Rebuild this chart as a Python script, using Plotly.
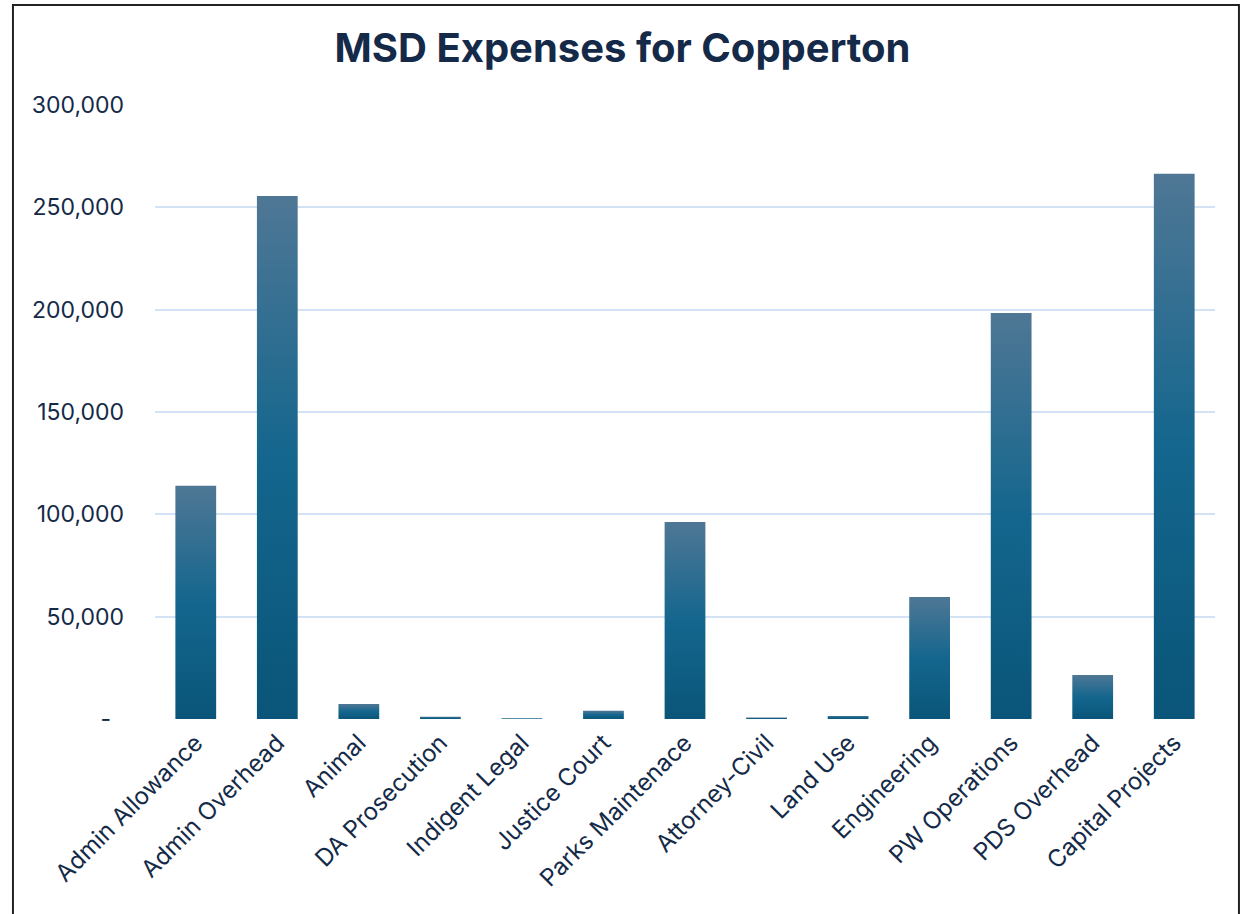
import plotly.graph_objects as go

# Expense categories and amounts (USD)
categories = [
    "Admin Allowance", "Admin Overhead", "Animal", "DA Prosecution",
    "Indigent Legal", "Justice Court", "Parks Maintenace", "Attorney-Civil",
    "Land Use", "Engineering", "PW Operations", "PDS Overhead", "Capital Projects",
]
expenses = [114000, 255500, 7300, 1100, 400, 4000, 96300, 700, 1500, 59600, 198400, 21500, 266400]

y_ticks = [0, 50000, 100000, 150000, 200000, 250000, 300000]
y_tick_text = ["-\u00a0\u00a0", "50,000", "100,000", "150,000", "200,000", "250,000", "300,000"]

BAR_WIDTH = 0.5
TEXT = "#142a48"
GRID = "#d3e2f4"
FONT = "Inter, Open Sans, sans-serif"
# bottom -> top gradient for each bar
bar_gradient = [[0.0, "#0a5579"], [0.5, "#14668e"], [1.0, "#4f7795"]]

fig = go.Figure()

for i, (name, value) in enumerate(zip(categories, expenses)):
    x0, x1 = i - BAR_WIDTH / 2, i + BAR_WIDTH / 2
    fig.add_trace(go.Scatter(
        x=[x0, x1, x1, x0, x0],
        y=[0, 0, value, value, 0],
        mode="lines",
        line=dict(width=0),
        fill="toself",
        fillgradient=dict(type="vertical", colorscale=bar_gradient),
        name=name,
        hoveron="fills",
        hoverinfo="text",
        text=f"{name}: {value:,}",
        showlegend=False,
    ))

fig.update_layout(
    width=1245,
    height=914,
    paper_bgcolor="white",
    plot_bgcolor="white",
    margin=dict(l=155, r=30, t=105, b=195),
    title=dict(
        text="<b>MSD Expenses for Copperton</b>",
        x=0.5, xanchor="center",
        y=0.947, yanchor="middle",
        font=dict(family=FONT, size=40, color=TEXT),
    ),
    xaxis=dict(
        range=[-0.5, len(categories) - 0.5],
        tickmode="array",
        tickvals=list(range(len(categories))),
        ticktext=categories,
        tickangle=-45,
        showgrid=False,
        zeroline=False,
        showline=False,
        ticks="",
        ticklabelstandoff=4,
        tickfont=dict(family=FONT, size=24, color=TEXT),
    ),
    yaxis=dict(
        range=[0, 300000],
        tickmode="array",
        tickvals=y_ticks,
        ticktext=y_tick_text,
        showgrid=True,
        gridcolor=GRID,
        gridwidth=1.5,
        zeroline=False,
        showline=False,
        ticks="",
        ticklabelstandoff=30,
        tickfont=dict(family=FONT, size=23, color=TEXT),
    ),
    shapes=[
        dict(
            type="rect", xref="paper", yref="paper",
            x0=-0.134, x1=1.0226, y0=-0.35, y1=1.163,
            line=dict(color="#222222", width=2),
            fillcolor="rgba(0,0,0,0)",
            layer="below",
        )
    ],
)

fig.write_html("out.html")
